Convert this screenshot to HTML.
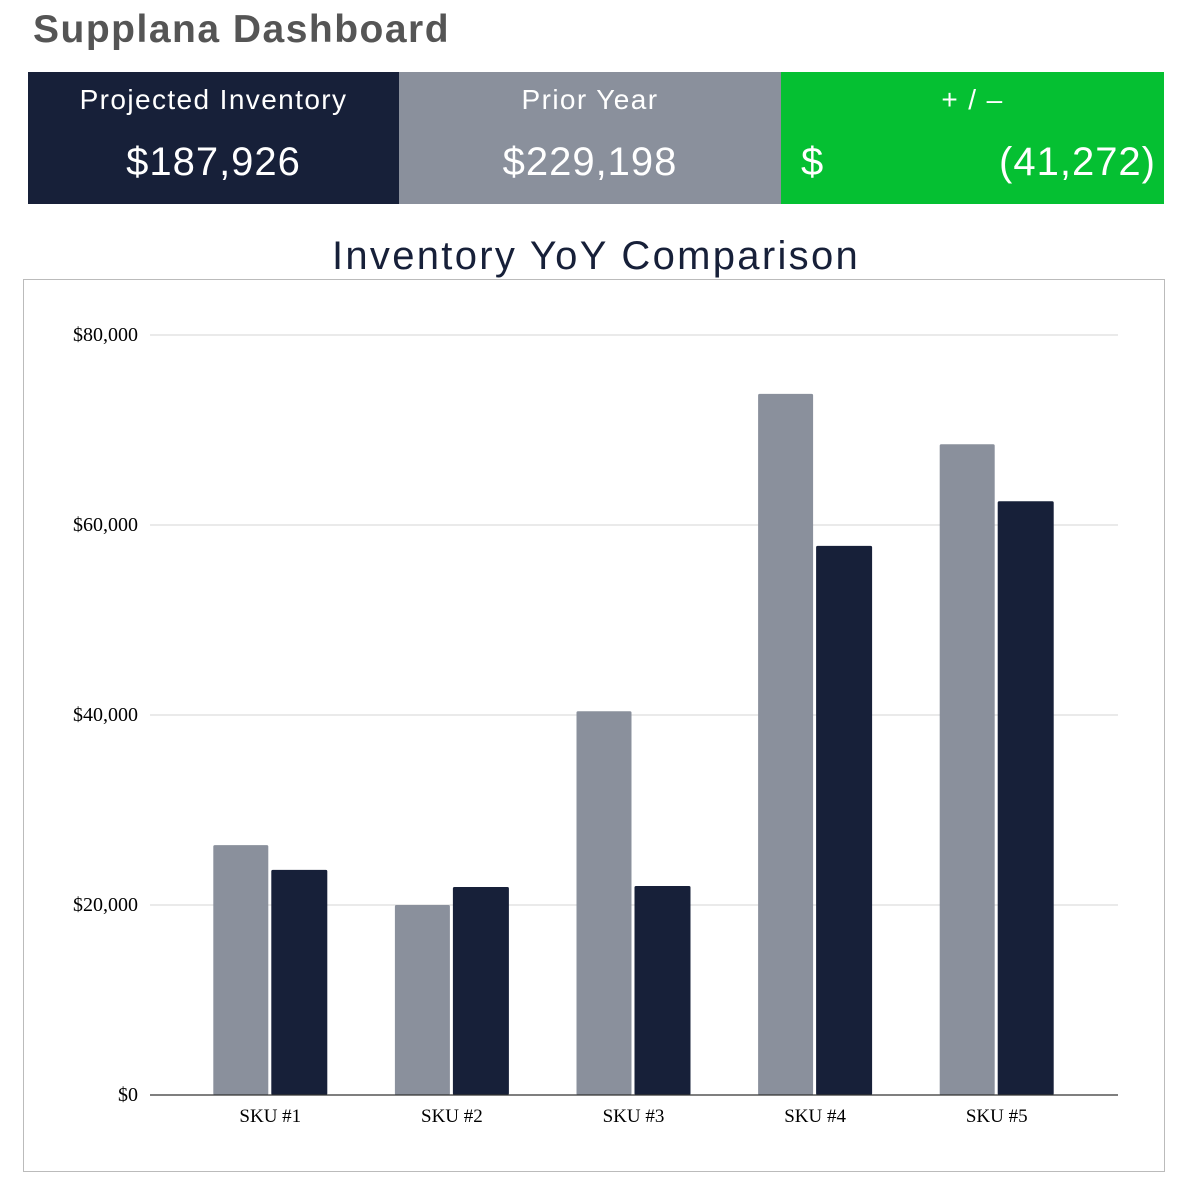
<!DOCTYPE html>
<html><head><meta charset="utf-8"><style>
body{margin:0;width:1186px;height:1186px;background:#fff;position:relative;overflow:hidden;font-family:"Liberation Sans",sans-serif}
.abs{position:absolute}
.box{position:absolute;top:72px;height:132px;color:#fff;text-align:center}
.box .lbl{position:absolute;top:12px;left:0;right:0;font-size:28px;letter-spacing:1.4px}
.big{position:absolute;top:68px;font-size:40px;left:0;right:0;letter-spacing:1px}
</style></head><body>
<div class="abs" style="left:33px;top:8px;font-size:39px;font-weight:bold;color:#555;letter-spacing:1.5px">Supplana Dashboard</div>
<div class="box" style="left:28px;width:371px;background:#172039">
<div class="lbl">Projected Inventory</div>
<div class="big">$187,926</div></div>
<div class="box" style="left:399px;width:382px;background:#8a909c">
<div class="lbl">Prior Year</div>
<div class="big">$229,198</div></div>
<div class="box" style="left:781px;width:383px;background:#05c032">
<div class="lbl">+ / –</div>
<div class="big" style="text-align:left;left:20px">$</div>
<div class="big" style="text-align:right;right:8px;left:auto">(41,272)</div></div>
<div class="abs" style="left:0;width:1192px;text-align:center;top:234px;font-size:40px;color:#172039;letter-spacing:2.3px">Inventory YoY Comparison</div>
<div class="abs" style="left:23px;top:279px;width:1140px;height:891px;border:1px solid #bbb"></div>
<svg class="abs" style="left:0;top:0" width="1186" height="1186" id="chart"></svg>
<script>
const categories=["SKU #1","SKU #2","SKU #3","SKU #4","SKU #5"];
const priorYear=[26300,20000,40400,73800,68500];
const projected=[23700,21900,22000,57800,62500];
const yTicks=[0,20000,40000,60000,80000];
const yTickLabels=["$0","$20,000","$40,000","$60,000","$80,000"];
const svg=document.getElementById('chart');const NS="http://www.w3.org/2000/svg";
const y=v=>1095-v*760/80000;
const band=i=>179.5+i*181.6;
function mk(t,a){const e=document.createElementNS(NS,t);for(const k in a)e.setAttribute(k,a[k]);svg.appendChild(e);return e;}
yTicks.forEach((t,i)=>{
 if(t>0){const g=mk('line',{x1:150,x2:1118,y1:y(t),y2:y(t),stroke:'#d4d4d4','stroke-width':1});
 
 }
 const l=mk('text',{x:138,y:y(t)+6,'text-anchor':'end','font-family':'Liberation Serif','font-size':20,fill:'#000'});
 l.textContent=yTickLabels[i];
 
 
});
categories.forEach((c,i)=>{
 const cx=band(i)+90.8;
 const b1=mk('rect',{x:cx-57,y:y(priorYear[i]),width:55,height:y(0)-y(priorYear[i]),fill:'#8a909c',rx:1.5});
 
 
 const b2=mk('rect',{x:cx+1,y:y(projected[i]),width:56,height:y(0)-y(projected[i]),fill:'#172039',rx:1.5});
 
 
 const t=mk('text',{x:cx,y:1122,'text-anchor':'middle','font-family':'Liberation Serif','font-size':19,fill:'#000'});
 t.textContent=c;
 
 
});
const ax=mk('line',{x1:150,x2:1118,y1:1095,y2:1095,stroke:'#333','stroke-width':1.2});


</script>
</body></html>
